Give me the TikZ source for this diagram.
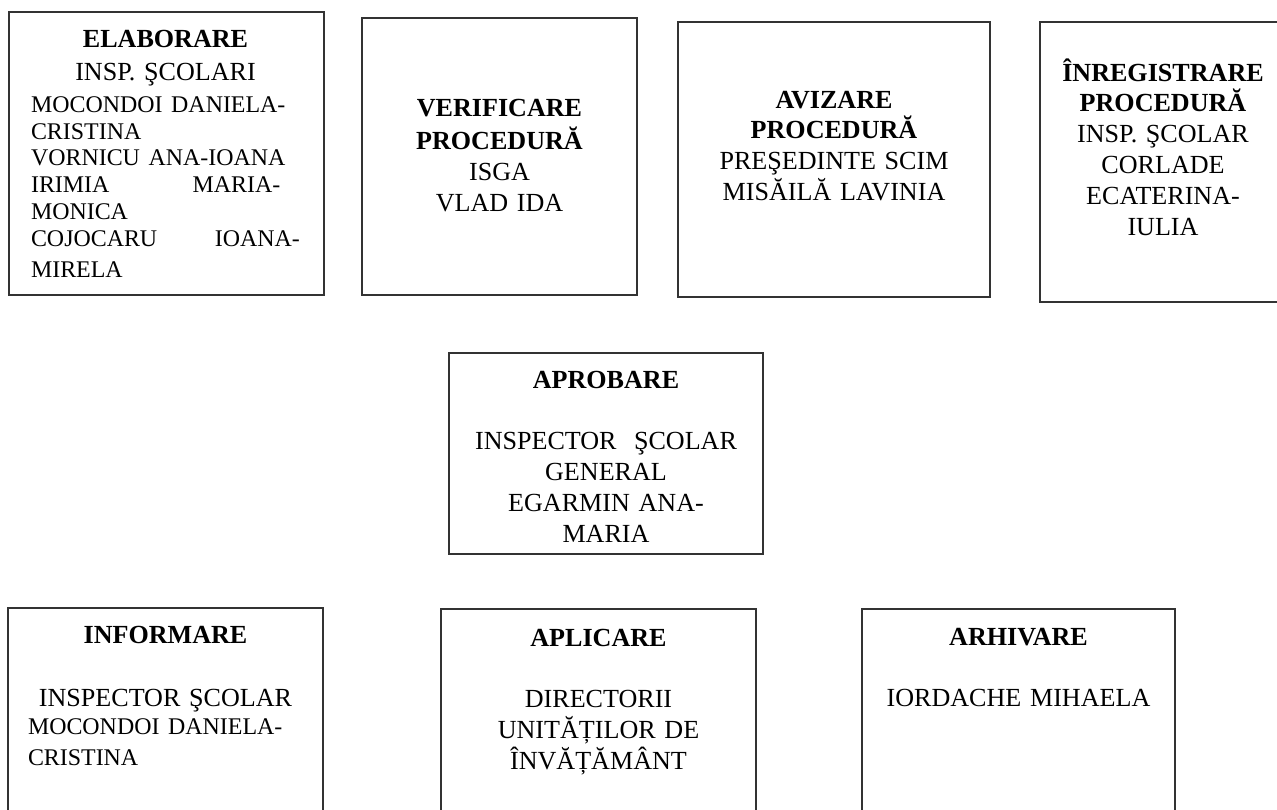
\documentclass[tikz,border=0pt]{standalone}
\usepackage{fontspec}
\setmainfont{Liberation Serif}

\begin{document}
\begin{tikzpicture}
  [x=0.46pt,y=-0.46pt,
   frame/.style={draw=black!80,line width=1pt},
   every node/.style={inner sep=0pt,anchor=base,font=\fontsize{12}{14.2}\selectfont},
   txt/.style={text width=#1,align=center}]
  \fill[white] (0,0) rectangle (1277,809);
  \useasboundingbox (0,0) rectangle (1277,809);

  % top row
  \draw[frame] (9,12) rectangle (324,295);
  \draw[frame] (362,18) rectangle (637,295);
  \draw[frame] (678,22) rectangle (990,297);
  \draw[frame] (1040,22) rectangle (1300,302);

  \node[text width=123.7pt] (elab) at (165.5,47)
    {{\centering\bfseries\fontsize{12}{15.2}\selectfont ELABORARE\par
      \mdseries INSP. ŞCOLARI\par}
     \vspace{2.6pt}\raggedright\fontsize{11}{12.3}\selectfont
     MOCONDOI DANIELA-\\
     CRISTINA\\
     VORNICU ANA-IOANA\\
     IRIMIA\hfill MARIA-\kern9pt\\
     MONICA\\
     COJOCARU\hfill IOANA-\\
     MIRELA};
  \node[txt=130pt] (verif) at (499.5,116)
    {\textbf{VERIFICARE}\\[1.4pt]\textbf{PROCEDURĂ}\\ISGA\\VLAD IDA};
  \node[txt=130pt] (aviz) at (834,108)
    {\textbf{AVIZARE}\\\textbf{PROCEDURĂ}\\PREŞEDINTE SCIM\\MISĂILĂ LAVINIA};
  \node[txt=130pt] (inreg) at (1163,81)
    {\textbf{ÎNREGISTRARE}\\\textbf{PROCEDURĂ}\\INSP. ŞCOLAR\\CORLADE\\ECATERINA-\\IULIA};

  % middle
  \draw[frame] (449,353) rectangle (763,554);
  \node[txt=130pt] (aprob) at (606,388)
    {\textbf{APROBARE}\\[14.3pt]INSPECTOR~ ŞCOLAR\\GENERAL\\EGARMIN ANA-\\MARIA};

  % bottom row
  \draw[frame] (8,608) rectangle (323,830);
  \draw[frame] (441,609) rectangle (756,830);
  \draw[frame] (862,609) rectangle (1175,830);

  \node[text width=126.5pt] (inform) at (165.5,643)
    {{\centering\bfseries INFORMARE\par}
     \vspace{15.2pt}{\centering INSPECTOR ŞCOLAR\par}
     \raggedright\fontsize{11}{12.9}\selectfont
     MOCONDOI DANIELA-\\
     CRISTINA};
  \node[txt=130pt] (aplic) at (598.5,646)
    {\textbf{APLICARE}\\[14.3pt]DIRECTORII\\UNITĂȚILOR DE\\ÎNVĂȚĂMÂNT};
  \node[txt=130pt] (arhiv) at (1018.5,645)
    {\textbf{ARHIVARE}\\[14.3pt]IORDACHE MIHAELA};

\end{tikzpicture}
\end{document}
